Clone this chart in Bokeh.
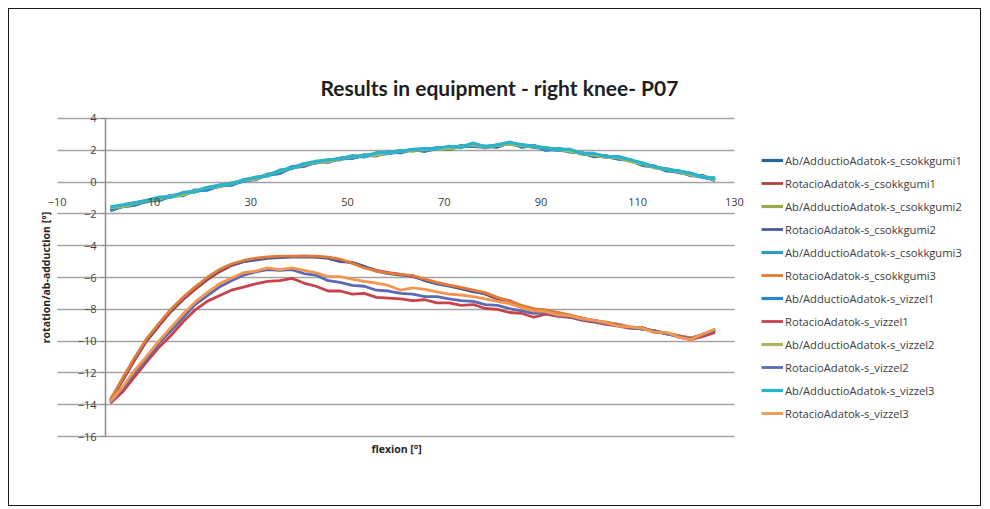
from bokeh.plotting import figure
from bokeh.models import LinearAxis, FixedTicker, Grid, Legend, LegendItem, Title
from bokeh.embed import file_html
from bokeh.resources import INLINE

TITLE = "Results in equipment - right knee- P07"
X_LABEL = "flexion [°]"
Y_LABEL = "rotation/ab-adduction [°]"

X_TICKS = [-10, 10, 30, 50, 70, 90, 110, 130]
Y_TICKS = [-16, -14, -12, -10, -8, -6, -4, -2, 0, 2, 4]

FLEX = [1, 3.5, 6, 8.5, 11, 13.5, 16, 18.5, 21, 23.5,
        26, 28.5, 31, 33.5, 36, 38.5, 41, 43.5, 46, 48.5,
        51, 53.5, 56, 58.5, 61, 63.5, 66, 68.5, 71, 73.5,
        76, 78.5, 81, 83.5, 86, 88.5, 91, 93.5, 96, 98.5,
        101, 103.5, 106, 108.5, 111, 113.5, 116, 118.5, 121, 123.5,
        126]

ab_csokkgumi1 = [-1.75, -1.55, -1.45, -1.15, -1.15, -0.85, -0.85, -0.5, -0.5, -0.2,
                 -0.2, 0.12, 0.15, 0.5, 0.55, 0.95, 1.0, 1.3, 1.25, 1.5,
                 1.5, 1.7, 1.65, 1.9, 1.85, 2.05, 1.95, 2.15, 2.05, 2.3,
                 2.25, 2.25, 2.2, 2.5, 2.2, 2.3, 2.0, 2.1, 1.9, 1.85,
                 1.6, 1.65, 1.45, 1.4, 1.05, 1.0, 0.7, 0.7, 0.4, 0.4,
                 0.1]
rot_csokkgumi1 = [-13.8, -12.5, -11.2, -10.0, -9.05, -8.15, -7.4, -6.75, -6.15, -5.65,
                  -5.25, -5.0, -4.85, -4.75, -4.7, -4.68, -4.68, -4.7, -4.75, -4.9,
                  -5.1, -5.35, -5.55, -5.7, -5.8, -5.95, -6.15, -6.35, -6.5, -6.7,
                  -6.85, -7.05, -7.35, -7.55, -7.85, -8.0, -8.15, -8.3, -8.5, -8.55,
                  -8.75, -8.85, -9.0, -9.15, -9.25, -9.35, -9.55, -9.7, -9.8, -9.65,
                  -9.25]
ab_csokkgumi2 = [-1.6, -1.45, -1.3, -1.25, -1.0, -0.95, -0.7, -0.6, -0.35, -0.3,
                 -0.05, 0.05, 0.3, 0.4, 0.7, 0.85, 1.15, 1.2, 1.4, 1.4,
                 1.65, 1.6, 1.8, 1.8, 2.0, 1.95, 2.1, 2.05, 2.2, 2.2,
                 2.4, 2.15, 2.35, 2.4, 2.35, 2.2, 2.15, 2.0, 2.05, 1.75,
                 1.75, 1.55, 1.6, 1.3, 1.2, 0.9, 0.85, 0.6, 0.55, 0.3,
                 0.25]
rot_csokkgumi2 = [-13.7, -12.4, -11.1, -9.9, -8.95, -8.05, -7.3, -6.6, -6.05, -5.55,
                  -5.2, -5.0, -4.9, -4.8, -4.75, -4.72, -4.7, -4.72, -4.8, -5.0,
                  -5.05, -5.3, -5.6, -5.75, -5.85, -5.9, -6.2, -6.4, -6.55, -6.7,
                  -6.9, -7.0, -7.3, -7.45, -7.8, -8.05, -8.05, -8.3, -8.4, -8.6,
                  -8.7, -8.85, -8.95, -9.15, -9.2, -9.4, -9.5, -9.7, -9.85, -9.55,
                  -9.35]
ab_csokkgumi3 = [-1.65, -1.5, -1.3, -1.2, -1.05, -0.85, -0.75, -0.6, -0.4, -0.2,
                 -0.1, 0.15, 0.25, 0.4, 0.65, 0.95, 1.1, 1.2, 1.35, 1.5,
                 1.6, 1.6, 1.75, 1.9, 1.95, 2.0, 2.05, 2.15, 2.15, 2.2,
                 2.35, 2.25, 2.3, 2.45, 2.3, 2.2, 2.1, 2.1, 2.0, 1.8,
                 1.7, 1.6, 1.55, 1.35, 1.15, 0.95, 0.8, 0.65, 0.5, 0.35,
                 0.2]
rot_csokkgumi3 = [-13.7, -12.35, -11.05, -9.85, -8.9, -8.0, -7.25, -6.6, -6.0, -5.5,
                  -5.15, -4.93, -4.78, -4.7, -4.66, -4.65, -4.64, -4.66, -4.72, -4.85,
                  -5.1, -5.4, -5.6, -5.72, -5.8, -5.88, -6.1, -6.3, -6.48, -6.62,
                  -6.8, -6.95, -7.25, -7.5, -7.75, -7.95, -8.05, -8.2, -8.35, -8.55,
                  -8.7, -8.8, -8.95, -9.1, -9.2, -9.35, -9.5, -9.65, -9.8, -9.6,
                  -9.25]
ab_vizzel1 = [-1.8, -1.5, -1.45, -1.2, -1.15, -0.9, -0.75, -0.55, -0.5, -0.25,
              -0.15, 0.05, 0.2, 0.45, 0.55, 0.9, 1.0, 1.25, 1.35, 1.45,
              1.5, 1.7, 1.7, 1.8, 1.9, 2.05, 1.95, 2.1, 2.15, 2.25,
              2.25, 2.2, 2.3, 2.4, 2.25, 2.3, 2.05, 2.0, 1.95, 1.8,
              1.65, 1.6, 1.45, 1.35, 1.05, 0.95, 0.75, 0.6, 0.45, 0.3,
              0.15]
rot_vizzel1 = [-13.9, -13.2, -12.25, -11.3, -10.4, -9.65, -8.8, -8.05, -7.5, -7.15,
               -6.8, -6.6, -6.4, -6.25, -6.2, -6.05, -6.35, -6.55, -6.85, -6.85,
               -7.05, -7.0, -7.25, -7.3, -7.35, -7.45, -7.4, -7.6, -7.6, -7.75,
               -7.7, -7.95, -8.0, -8.2, -8.25, -8.5, -8.3, -8.45, -8.5, -8.7,
               -8.8, -8.95, -9.05, -9.2, -9.15, -9.45, -9.5, -9.75, -9.9, -9.7,
               -9.45]
ab_vizzel2 = [-1.6, -1.55, -1.35, -1.15, -1.05, -0.9, -0.8, -0.55, -0.35, -0.25,
              -0.1, 0.1, 0.2, 0.45, 0.7, 0.85, 1.1, 1.25, 1.3, 1.45,
              1.6, 1.65, 1.7, 1.85, 1.95, 2.0, 2.05, 2.1, 2.1, 2.25,
              2.35, 2.2, 2.3, 2.4, 2.3, 2.25, 2.15, 2.05, 1.95, 1.8,
              1.7, 1.55, 1.55, 1.3, 1.15, 0.9, 0.8, 0.65, 0.45, 0.35,
              0.15]
rot_vizzel2 = [-13.85, -13.0, -12.0, -11.1, -10.15, -9.35, -8.55, -7.7, -7.15, -6.6,
               -6.2, -5.85, -5.65, -5.5, -5.55, -5.5, -5.75, -5.85, -6.2, -6.3,
               -6.5, -6.55, -6.8, -6.85, -7.0, -7.05, -7.2, -7.2, -7.35, -7.45,
               -7.5, -7.7, -7.75, -7.95, -8.1, -8.25, -8.2, -8.4, -8.45, -8.65,
               -8.75, -8.9, -9.0, -9.15, -9.25, -9.35, -9.55, -9.7, -9.85, -9.6,
               -9.3]
ab_vizzel3 = [-1.55, -1.45, -1.3, -1.15, -0.95, -0.95, -0.65, -0.6, -0.35, -0.2,
              -0.1, 0.1, 0.3, 0.4, 0.75, 0.85, 1.15, 1.3, 1.4, 1.45,
              1.65, 1.6, 1.85, 1.85, 1.95, 2.05, 2.1, 2.1, 2.25, 2.2,
              2.45, 2.2, 2.35, 2.5, 2.35, 2.25, 2.15, 2.05, 2.05, 1.8,
              1.8, 1.6, 1.6, 1.4, 1.2, 0.95, 0.8, 0.7, 0.55, 0.3,
              0.25]
rot_vizzel3 = [-13.8, -12.9, -11.85, -10.95, -10.0, -9.15, -8.3, -7.55, -6.95, -6.4,
               -6.05, -5.7, -5.6, -5.4, -5.5, -5.4, -5.55, -5.7, -5.95, -5.95,
               -6.1, -6.25, -6.35, -6.5, -6.8, -6.65, -6.75, -6.9, -7.05, -7.1,
               -7.2, -7.35, -7.5, -7.65, -7.9, -8.1, -8.15, -8.35, -8.4, -8.6,
               -8.7, -8.85, -9.05, -9.1, -9.2, -9.45, -9.45, -9.75, -9.9, -9.55,
               -9.25]

SERIES_NAMES = [
    "Ab/AdductioAdatok-s_csokkgumi1", "RotacioAdatok-s_csokkgumi1",
    "Ab/AdductioAdatok-s_csokkgumi2", "RotacioAdatok-s_csokkgumi2",
    "Ab/AdductioAdatok-s_csokkgumi3", "RotacioAdatok-s_csokkgumi3",
    "Ab/AdductioAdatok-s_vizzel1", "RotacioAdatok-s_vizzel1",
    "Ab/AdductioAdatok-s_vizzel2", "RotacioAdatok-s_vizzel2",
    "Ab/AdductioAdatok-s_vizzel3", "RotacioAdatok-s_vizzel3",
]
SERIES_VALUES = [ab_csokkgumi1, rot_csokkgumi1, ab_csokkgumi2, rot_csokkgumi2,
                 ab_csokkgumi3, rot_csokkgumi3, ab_vizzel1, rot_vizzel1,
                 ab_vizzel2, rot_vizzel2, ab_vizzel3, rot_vizzel3]
COLORS = ["#24679f", "#b0413e", "#9aa84a", "#4e5a9c", "#2e9bbd", "#e27b36",
          "#2a86c8", "#c9424a", "#b3b55c", "#5d69b3", "#27b4cc", "#f5964f"]

# the frame is a little wider/taller than the axis extent (-10..130, -16..4)
# so that the end tick labels and the legend are not clipped
p = figure(width=973, height=498, x_range=(-12, 180.25), y_range=(-16.5, 4.5),
           x_axis_type=None, y_axis_type=None, output_backend="svg",
           toolbar_location=None,
           min_border_left=38, min_border_right=5, min_border_top=101,
           min_border_bottom=63)
p.styles = {"border": "1.5px solid #1a1a1a", "margin-left": "8px",
            "margin-top": "8px"}
p.outline_line_color = None
p.background_fill_color = "white"
p.border_fill_color = "white"

# title
p.title.text = TITLE
p.title.align = "left"
p.title.offset = 273
p.title.standoff = 22
p.title.text_font = "Lato"
p.title.text_font_size = "21px"
p.title.text_font_style = "bold"
p.title.text_color = "#1e1e1e"

# axes crossing at zero
xaxis = LinearAxis(fixed_location=0, ticker=FixedTicker(ticks=X_TICKS))
xaxis.axis_line_color = None
xaxis.major_tick_line_color = None
xaxis.minor_tick_line_color = None
xaxis.major_label_standoff = 10
xaxis.major_label_text_font = "Open Sans"
xaxis.major_label_text_font_size = "11px"
xaxis.major_label_text_color = "#404040"
p.add_layout(xaxis, "below")

yaxis = LinearAxis(fixed_location=0, ticker=FixedTicker(ticks=Y_TICKS),
                   bounds=(-16, 4))
yaxis.axis_line_color = "#8c8c8c"
yaxis.axis_line_width = 1.5
yaxis.major_tick_line_color = "#8c8c8c"
yaxis.major_tick_in = 0
yaxis.major_tick_out = 4
yaxis.minor_tick_line_color = None
yaxis.major_label_standoff = 5
yaxis.major_label_text_font = "Open Sans"
yaxis.major_label_text_font_size = "11px"
yaxis.major_label_text_color = "#404040"
p.add_layout(yaxis, "left")

grid = Grid(dimension=1, ticker=yaxis.ticker, grid_line_color="#a3a3a3",
            grid_line_width=1.5)
try:
    grid.cross_bounds = (-10, 130)
except Exception:
    pass
p.add_layout(grid)

# axis titles
ytitle = Title(text=Y_LABEL, align="center", text_font="Open Sans",
               text_font_size="10.5px", text_font_style="bold",
               text_color="#262626", standoff=0)
try:
    ytitle.standoff = -10
except Exception:
    pass
p.add_layout(ytitle, "left")
xtitle = Title(text=X_LABEL, align="left", offset=324, text_font="Open Sans",
               text_font_size="10.5px", text_font_style="bold",
               text_color="#262626", standoff=0)
try:
    xtitle.standoff = -9
except Exception:
    pass
p.add_layout(xtitle, "below")

items = []
for name, vals, col in zip(SERIES_NAMES, SERIES_VALUES, COLORS):
    lw = 3.2 if name.startswith("Ab/") else 2.8
    r = p.line(FLEX, vals, line_color=col, line_width=lw, line_join="round")
    items.append(LegendItem(label=name, renderers=[r]))

legend = Legend(items=items, location=(714, 21), padding=5, margin=0,
                ncols=1, spacing=3, glyph_width=22, glyph_height=20,
                label_height=20, label_standoff=2, label_text_font="Open Sans",
                label_text_font_size="11.2px", label_text_color="#404040",
                border_line_color=None, background_fill_alpha=0)
p.add_layout(legend)

open("out.html", "w").write(file_html(p, INLINE))
